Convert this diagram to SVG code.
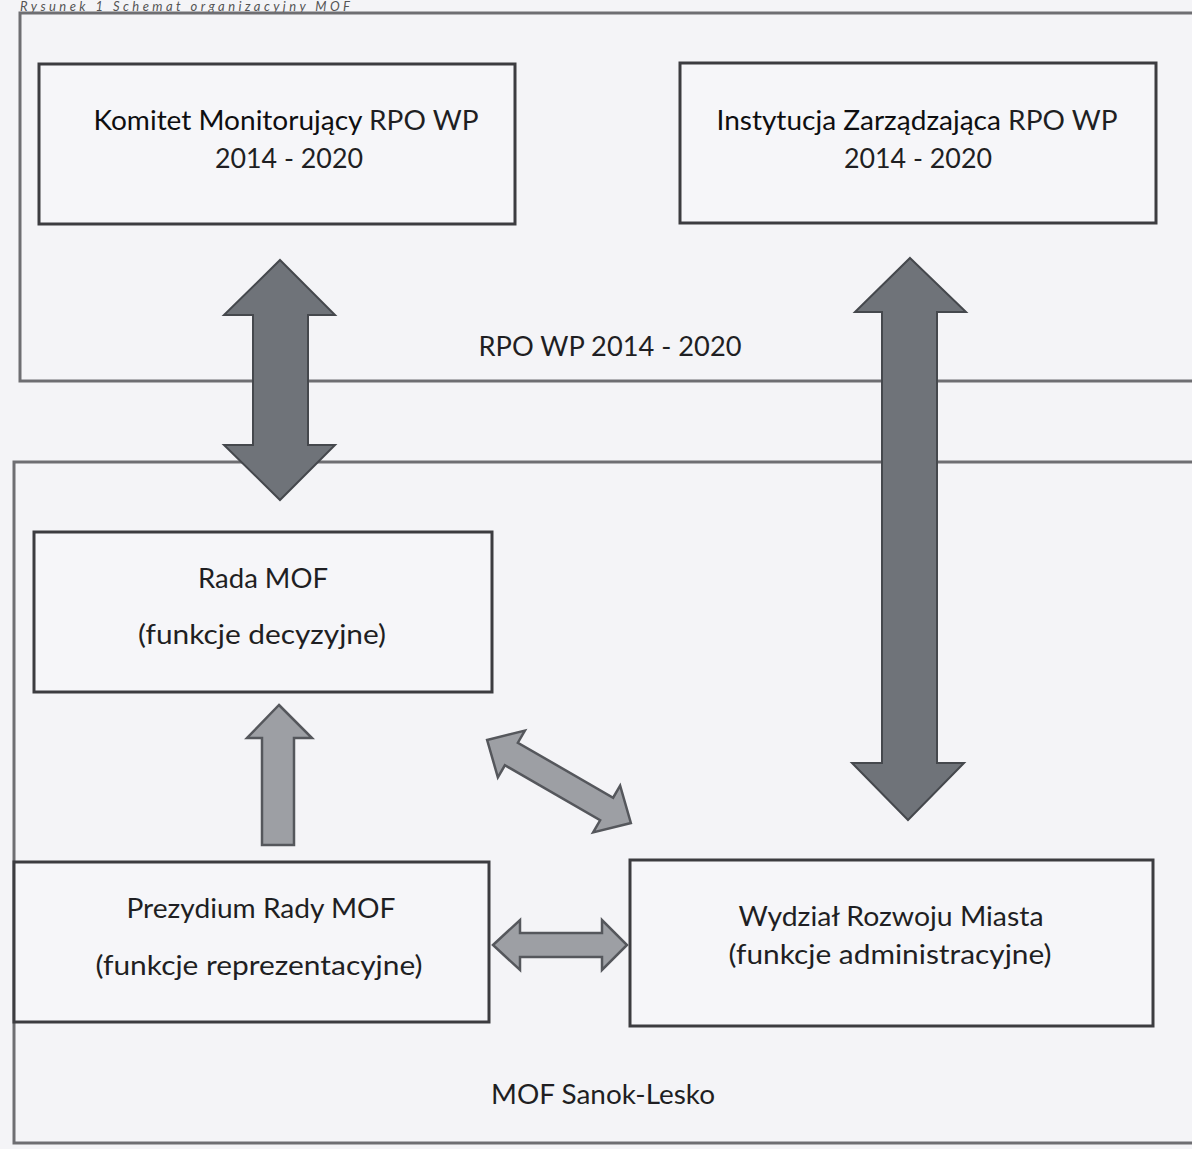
<svg xmlns="http://www.w3.org/2000/svg" width="1192" height="1149" viewBox="0 0 1192 1149">
<style>
.bg{fill:#f4f4f7}
.frame{fill:none;stroke:#6e6e72;stroke-width:3}
.box{fill:#f6f6f9;stroke:#3c3c40;stroke-width:3}
.t{font-family:Lato,"Open Sans","Liberation Sans",sans-serif;font-size:26px;fill:#1f1f23;text-anchor:middle}
.big{fill:#6f7379;stroke:#45484d;stroke-width:2;stroke-linejoin:miter}
.small{fill:#9d9fa4;stroke:#55575c;stroke-width:2.5;stroke-linejoin:miter}
.cap{font-family:Lato,"Open Sans","Liberation Sans",sans-serif;font-style:italic;font-size:13px;fill:#555}
</style>
<rect class="bg" x="0" y="0" width="1192" height="1149"/>
<text class="cap" x="20" y="11" textLength="330" lengthAdjust="spacing">Rysunek 1 Schemat organizacyjny MOF</text>

<g id="frame-rpo">
<rect class="frame" x="20" y="13" width="1190" height="368"/>
<text class="t" x="610" y="356" textLength="263" lengthAdjust="spacingAndGlyphs">RPO WP 2014 - 2020</text>
</g>
<g id="frame-mof">
<rect class="frame" x="14" y="462" width="1196" height="681"/>
<text class="t" x="603" y="1104" textLength="224" lengthAdjust="spacingAndGlyphs">MOF Sanok-Lesko</text>
</g>

<g id="komitet">
<rect class="box" x="39" y="64" width="476" height="160"/>
<text class="t" x="286" y="130" textLength="385" lengthAdjust="spacingAndGlyphs"><tspan fill="#0e0e10">Komitet Monitorujący</tspan> RPO WP</text>
<text class="t" x="289" y="168" textLength="148" lengthAdjust="spacingAndGlyphs">2014 - 2020</text>
</g>
<g id="instytucja">
<rect class="box" x="680" y="63" width="476" height="160"/>
<text class="t" x="917" y="130" textLength="401" lengthAdjust="spacingAndGlyphs"><tspan fill="#0e0e10">Instytucja Zarządzająca</tspan> RPO WP</text>
<text class="t" x="918" y="168" textLength="148" lengthAdjust="spacingAndGlyphs">2014 - 2020</text>
</g>
<g id="rada">
<rect class="box" x="34" y="532" width="458" height="160"/>
<text class="t" x="263" y="588" textLength="130" lengthAdjust="spacingAndGlyphs">Rada MOF</text>
<text class="t" x="262" y="644" textLength="248" lengthAdjust="spacingAndGlyphs">(funkcje decyzyjne)</text>
</g>
<g id="prezydium">
<rect class="box" x="14" y="862" width="475" height="160"/>
<text class="t" x="261" y="918" textLength="269" lengthAdjust="spacingAndGlyphs">Prezydium Rady MOF</text>
<text class="t" x="259" y="975" textLength="327" lengthAdjust="spacingAndGlyphs">(funkcje reprezentacyjne)</text>
</g>
<g id="wydzial">
<rect class="box" x="630" y="860" width="523" height="166"/>
<text class="t" x="891" y="926" textLength="305" lengthAdjust="spacingAndGlyphs">Wydział Rozwoju Miasta</text>
<text class="t" x="890" y="964" textLength="323" lengthAdjust="spacingAndGlyphs">(funkcje administracyjne)</text>
</g>

<g id="connectors">
<polygon class="big" points="280,260 335,315 308,315 308,445 335,445 280,500 224,445 253,445 253,315 224,315"/>
<polygon class="big" points="910,258 966,312 937,312 937,763 964,763 908,820 852,763 882,763 882,312 855,312"/>
<polygon class="small" points="279,705 312,738 294,738 294,845 262,845 262,738 247,738"/>
<polygon class="small" transform="translate(559,781.5) rotate(30)" points="-83,0 -55,-27 -55,-13 55,-13 55,-27 83,0 55,27 55,13 -55,13 -55,27"/>
<polygon class="small" points="493,945 520,920 520,933 602,933 602,920 627,945 602,970 602,957 520,957 520,970"/>
</g>
</svg>
